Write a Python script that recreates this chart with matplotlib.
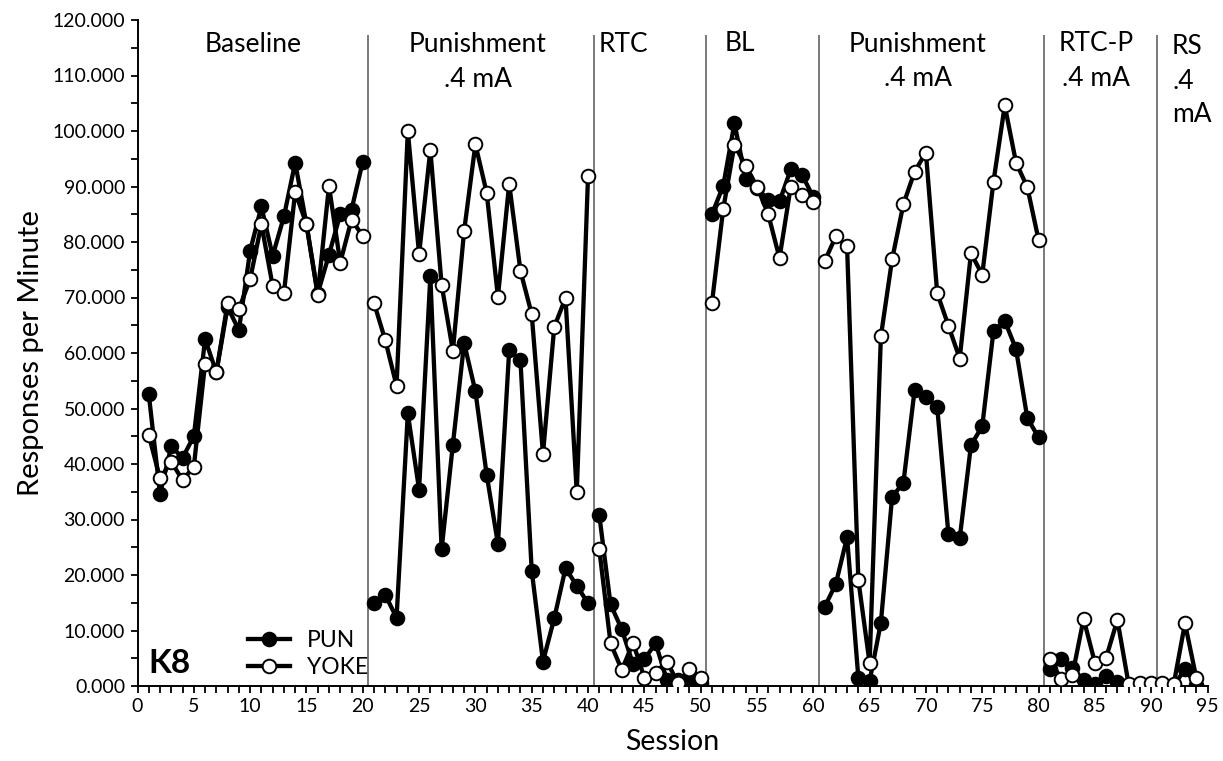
import matplotlib
matplotlib.use("Agg")
import matplotlib.pyplot as plt
from matplotlib.ticker import MultipleLocator, FormatStrFormatter
from matplotlib.lines import Line2D

plt.rcParams['font.family'] = ['Lato', 'DejaVu Sans']

# Session numbers and responses per minute, by phase
sessions = list(range(1, 95))

pun = [52.6, 34.6, 43.2, 41.1, 45.0, 62.5, 56.5, 68.3, 64.1, 78.4,
       86.4, 77.5, 84.6, 94.3, 83.2, 70.7, 77.7, 85.0, 85.8, 94.5,
       15.0, 16.4, 12.3, 49.1, 35.4, 73.8, 24.6, 43.5, 61.8, 53.1,
       38.1, 25.6, 60.5, 58.7, 20.8, 4.4, 12.2, 21.2, 18.1, 14.9,
       30.8, 14.7, 10.2, 3.9, 4.8, 7.7, 1.1, 1.0, 0.8, 0.5,
       85.0, 90.1, 101.4, 91.4, 89.7, 87.6, 87.3, 93.1, 92.1, 88.1,
       14.2, 18.4, 26.8, 1.5, 0.9, 11.4, 34.1, 36.6, 53.4, 52.1,
       50.3, 27.3, 26.6, 43.4, 46.8, 64.0, 65.8, 60.7, 48.3, 44.8,
       3.0, 4.8, 3.3, 1.0, 0.4, 1.8, 0.8, 0.1, 0.1, 0.3,
       0.1, 0.1, 3.0, 0.2]

yoke = [45.2, 37.4, 40.4, 37.1, 39.5, 58.1, 56.5, 69.0, 67.9, 73.3,
        83.2, 72.1, 70.8, 89.0, 83.2, 70.5, 90.1, 76.3, 84.0, 81.1,
        69.0, 62.3, 54.1, 100.0, 77.8, 96.6, 72.3, 60.4, 82.0, 97.6,
        88.9, 70.1, 90.5, 74.8, 67.0, 41.8, 64.7, 69.9, 34.9, 91.9,
        24.6, 7.7, 2.9, 7.8, 1.5, 2.4, 4.4, 0.5, 3.0, 1.5,
        69.0, 85.9, 97.5, 93.7, 90.0, 85.0, 77.1, 90.0, 88.5, 87.2,
        76.5, 81.0, 79.2, 19.1, 4.1, 63.0, 76.9, 86.8, 92.7, 96.1,
        70.8, 64.9, 59.0, 78.0, 74.1, 90.9, 104.6, 94.3, 89.9, 80.4,
        4.8, 1.3, 1.9, 12.1, 4.2, 5.1, 11.9, 0.3, 0.5, 0.6,
        0.6, 0.3, 11.3, 1.5]

# First and last session of each phase
phase_bounds = [(1, 20), (21, 40), (41, 50), (51, 60), (61, 80), (81, 90), (91, 94)]
phase_lines = [20.5, 40.5, 50.5, 60.5, 80.5, 90.5]

fig = plt.figure(figsize=(12.23, 7.61), dpi=100)
ax = fig.add_axes([137.5 / 1223, 75 / 761, 1070 / 1223, 666 / 761])

line_kw = dict(color='black', lw=3.1, marker='o', ms=9.8, mec='black', mew=1.4)
for start, end in phase_bounds:
    i0, i1 = start - 1, end
    ax.plot(sessions[i0:i1], pun[i0:i1], mfc='black', zorder=3, **line_kw)
for start, end in phase_bounds:
    i0, i1 = start - 1, end
    ax.plot(sessions[i0:i1], yoke[i0:i1], mfc='white', zorder=4, **line_kw)

ax.vlines(phase_lines, 0, 117.3, color='#555555', lw=1.1, zorder=2)

ax.set_xlim(0, 95)
ax.set_ylim(0, 120)
ax.xaxis.set_major_locator(MultipleLocator(5))
ax.xaxis.set_minor_locator(MultipleLocator(1))
ax.yaxis.set_major_locator(MultipleLocator(10))
ax.yaxis.set_minor_locator(MultipleLocator(5))
ax.yaxis.set_major_formatter(FormatStrFormatter('%.3f'))
ax.tick_params(which='both', direction='out', length=5, width=1.3, color='black')
ax.tick_params(which='major', labelsize=14, pad=4)
for s in ('top', 'right'):
    ax.spines[s].set_visible(False)
for s in ('left', 'bottom'):
    ax.spines[s].set_linewidth(1.4)

ax.set_xlabel('Session', fontsize=20.5, labelpad=10)
ax.set_ylabel('Responses per Minute', fontsize=21, labelpad=6)

# Phase labels
fs = 19
lab_kw = dict(fontsize=fs, ha='center', va='center')
ax.text(10.26, 115.5, 'Baseline', **lab_kw)
ax.text(30.2, 115.5, 'Punishment', **lab_kw)
ax.text(30.2, 109.2, '.4 mA', **lab_kw)
ax.text(43.1, 115.5, 'RTC', **lab_kw)
ax.text(53.5, 115.8, 'BL', **lab_kw)
ax.text(69.3, 115.5, 'Punishment', **lab_kw)
ax.text(69.3, 109.4, '.4 mA', **lab_kw)
ax.text(85.1, 115.8, 'RTC-P', **lab_kw)
ax.text(85.1, 109.4, '.4 mA', **lab_kw)
ax.text(91.85, 115.3, 'RS', fontsize=fs, ha='left', va='center')
ax.text(91.85, 109.0, '.4', fontsize=fs, ha='left', va='center')
ax.text(91.85, 102.9, 'mA', fontsize=fs, ha='left', va='center')

ax.text(0.93, 4.1, 'K8', fontsize=24, fontweight='bold', ha='left', va='center')

handles = [Line2D([], [], color='black', lw=3.1, marker='o', ms=9.8, mfc='black', mec='black', mew=1.4),
           Line2D([], [], color='black', lw=3.1, marker='o', ms=9.8, mfc='white', mec='black', mew=1.4)]
ax.legend(handles, ['PUN', 'YOKE'], loc='lower left', bbox_to_anchor=(0.103, 0.012),
          frameon=False, fontsize=16.5, handlelength=1.85, handletextpad=0.75,
          labelspacing=0.25, borderaxespad=0.0, borderpad=0.0)

fig.savefig('out.png', dpi=100)
